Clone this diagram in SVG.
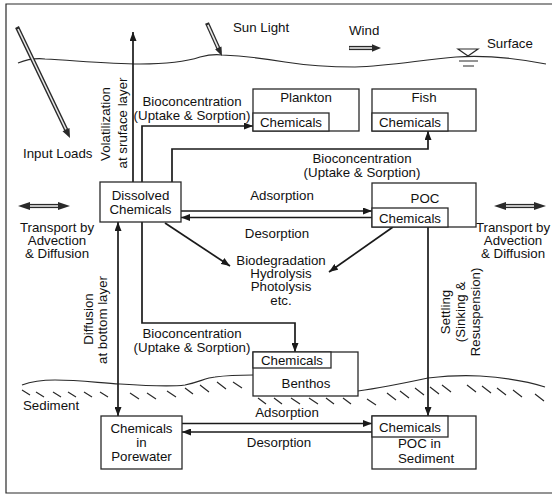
<svg xmlns="http://www.w3.org/2000/svg" width="552" height="495" viewBox="0 0 552 495">
<defs>
<style>
text{font-family:"Liberation Sans",Arial,sans-serif;font-size:13.3px;fill:#111}
.m{text-anchor:middle}
.box{fill:#fff;stroke:#2a2a2a;stroke-width:1.3}
.c{fill:none;stroke:#1a1a1a;stroke-width:1.7}
.thin{fill:none;stroke:#2a2a2a;stroke-width:1.2}
.dbo{fill:none;stroke:#2a2a2a;stroke-width:4.2}
.dbi{fill:none;stroke:#e8e8e8;stroke-width:1.6}
.hd{fill:#2a2a2a}
.h{stroke:#2a2a2a;stroke-width:1.2}
</style>
<marker id="ah" markerWidth="9" markerHeight="7" refX="9" refY="3.5" orient="auto-start-reverse" markerUnits="userSpaceOnUse"><path d="M0,0 L9,3.5 L0,7 z" fill="#1a1a1a"/></marker>
</defs>
<rect width="552" height="495" fill="#fff"/>
<path d="M552,4 H6 V493 H552" class="thin" stroke-width="1.5"/>

<g id="environment">
<path class="thin" d="M18,63 C28,59 36,58 45,59 C80,61 110,64 140,64 C170,64 188,61 200,57 C208,55 214,54 222,55 C245,56 262,58 285,62 C310,66 330,67 355,67 C390,66 420,60 456,57 C485,55 515,58 546,64"/>
<path class="thin" d="M458,49 H478 L468,56 Z"/>
<path class="thin" d="M459,61 H478 M463,66 H474"/>
<text x="487" y="48">Surface</text>
<text x="233" y="32">Sun Light</text>
<text x="349" y="35">Wind</text>
<text x="23" y="158">Input Loads</text>
<path class="thin" d="M22,385 C30,382 40,380 55,380 C80,380 100,383 120,384 C150,386 170,387 185,385 C200,382 205,378 215,377 C230,375 245,375 253,375"/>
<path class="thin" d="M358,391 C380,388 400,384 428,378 C445,376 465,375 480,376 C510,378 530,382 545,387"/>
<g class="h">
<path d="M22,390 l8,5 M36,392 l8,5 M53,392 l8,5 M68,392 l8,5 M84,392 l8,5 M100,392 l8,5 M130,393 l9,6 M147,393 l9,6 M167,391 l9,6 M185,388 l8,6 M200,385 l9,7 M217,382 l9,7 M233,382 l9,6 M258,398 l8,6 M274,398 l8,6 M291,398 l9,6 M309,398 l9,6 M326,398 l8,6 M343,398 l8,6 M367,399 l9,6 M387,393 l9,7 M400,391 l9,7 M415,388 l9,7 M430,387 l9,7 M442,385 l9,7 M467,385 l9,7 M482,386 l9,7 M497,388 l9,7 M513,390 l9,7 M535,394 l9,7"/>
</g>
<text x="23" y="410">Sediment</text>
</g>

<g id="double-arrows">
<path class="dbo" d="M17,27 L66.5,130.5"/>
<path class="dbi" d="M18,29 L66,129.5"/>
<polygon class="hd" points="70,138 69.5,128 62.5,131.3"/>
<path class="dbo" d="M207,23 L218.5,48.5"/>
<path class="dbi" d="M207.8,24.8 L218.2,47.8"/>
<polygon class="hd" points="222,56 221.5,46.4 215.1,49.3"/>
<path class="dbo" d="M349,48 H373"/>
<path class="dbi" d="M349.5,48 H372"/>
<polygon class="hd" points="381,48 372,44.3 372,51.7"/>
<path class="dbo" d="M29,206 H59"/>
<path class="dbi" d="M30,206 H58"/>
<polygon class="hd" points="18,206 30,202 30,210"/>
<polygon class="hd" points="70,206 58,202 58,210"/>
<path class="dbo" d="M505,206 H535"/>
<path class="dbi" d="M506,206 H534"/>
<polygon class="hd" points="494,206 506,202 506,210"/>
<polygon class="hd" points="546,206 534,202 534,210"/>
</g>

<g id="connectors">
<path class="c" d="M133,182 V32" marker-end="url(#ah)"/>
<path class="c" d="M142,182 V126 H253" marker-end="url(#ah)"/>
<path class="c" d="M172,182 V149 H428 V131" marker-end="url(#ah)"/>
<path class="c" d="M181,211 H372" marker-end="url(#ah)"/>
<path class="c" d="M372,217.5 H181" marker-end="url(#ah)"/>
<path class="c" d="M165,223 L230,266" marker-end="url(#ah)"/>
<path class="c" d="M393,227 L329,272" marker-end="url(#ah)"/>
<path class="c" d="M142,222 V323 H295 V352" marker-end="url(#ah)"/>
<path class="c" d="M118,222 V416" marker-start="url(#ah)" marker-end="url(#ah)"/>
<path class="c" d="M428,227 V416" marker-end="url(#ah)"/>
<path class="c" d="M182,423.5 H372" marker-end="url(#ah)"/>
<path class="c" d="M372,432 H182" marker-end="url(#ah)"/>
</g>

<g id="connector-labels">
<text transform="translate(110,124) rotate(-90)" class="m">Volatilization</text>
<text transform="translate(127,123) rotate(-90)" class="m">at sruface layer</text>
<text x="192" y="106" class="m">Bioconcentration</text>
<text x="192" y="120" class="m">(Uptake &amp; Sorption)</text>
<text x="362" y="163" class="m">Bioconcentration</text>
<text x="362" y="177" class="m">(Uptake &amp; Sorption)</text>
<text x="282" y="200" class="m">Adsorption</text>
<text x="277" y="238" class="m">Desorption</text>
<text x="192" y="338" class="m">Bioconcentration</text>
<text x="192" y="352" class="m">(Uptake &amp; Sorption)</text>
<text transform="translate(93,319) rotate(-90)" class="m">Diffusion</text>
<text transform="translate(107,320) rotate(-90)" class="m">at bottom layer</text>
<text transform="translate(450,312) rotate(-90)" class="m">Settling</text>
<text transform="translate(465,312) rotate(-90)" class="m">(Sinking &amp;</text>
<text transform="translate(480,312) rotate(-90)" class="m">Resuspension)</text>
<text x="287" y="417" class="m">Adsorption</text>
<text x="279" y="447" class="m">Desorption</text>
<text x="57" y="232" class="m">Transport by</text>
<text x="57" y="245" class="m">Advection</text>
<text x="57" y="258" class="m">&amp; Diffusion</text>
<text x="513" y="232" class="m">Transport by</text>
<text x="513" y="245" class="m">Advection</text>
<text x="513" y="258" class="m">&amp; Diffusion</text>
</g>

<g id="degradation">
<text x="281" y="265" class="m">Biodegradation</text>
<text x="281" y="278" class="m">Hydrolysis</text>
<text x="281" y="291" class="m">Photolysis</text>
<text x="281" y="305" class="m">etc.</text>
</g>

<g id="plankton">
<rect class="box" x="253" y="89" width="106" height="42"/>
<rect class="box" x="253" y="113" width="76" height="18"/>
<text x="306" y="102" class="m">Plankton</text>
<text x="291" y="127" class="m">Chemicals</text>
</g>

<g id="fish">
<rect class="box" x="372" y="89" width="104" height="42"/>
<rect class="box" x="372" y="113" width="76" height="18"/>
<text x="424" y="102" class="m">Fish</text>
<text x="410" y="127" class="m">Chemicals</text>
</g>

<g id="dissolved">
<rect class="box" x="100" y="182" width="81" height="40"/>
<text x="140.5" y="200" class="m">Dissolved</text>
<text x="140.5" y="214" class="m">Chemicals</text>
</g>

<g id="poc">
<rect class="box" x="372" y="183" width="104" height="44"/>
<rect class="box" x="372" y="208" width="76" height="19"/>
<text x="425" y="203" class="m">POC</text>
<text x="410" y="223" class="m">Chemicals</text>
</g>

<g id="benthos">
<rect class="box" x="253" y="352" width="105" height="44"/>
<rect class="box" x="253" y="352" width="78" height="16"/>
<text x="292" y="365" class="m">Chemicals</text>
<text x="306" y="388" class="m">Benthos</text>
</g>

<g id="porewater">
<rect class="box" x="101" y="416" width="81" height="53"/>
<text x="141.5" y="433" class="m">Chemicals</text>
<text x="141.5" y="447" class="m">in</text>
<text x="141.5" y="461" class="m">Porewater</text>
</g>

<g id="poc-sediment">
<rect class="box" x="372" y="416" width="104" height="53"/>
<rect class="box" x="372" y="416" width="76" height="21"/>
<text x="410" y="432" class="m">Chemicals</text>
<text x="398" y="448">POC in</text>
<text x="398" y="463">Sediment</text>
</g>
</svg>
